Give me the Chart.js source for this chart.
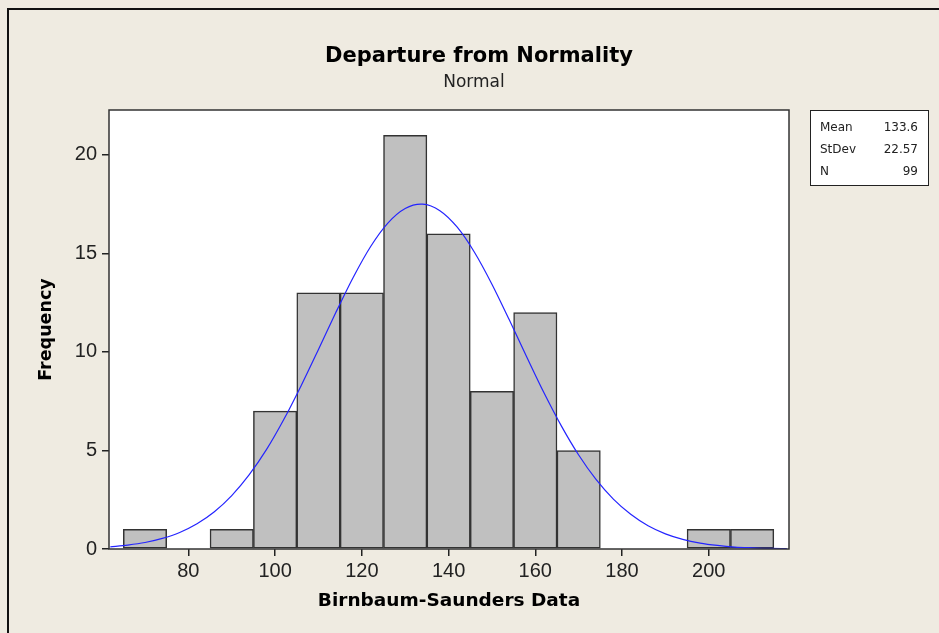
<!DOCTYPE html>
<html>
<head>
<meta charset="utf-8">
<script src="https://cdn.jsdelivr.net/npm/chart.js@4"></script>
<style>
  body { margin: 0; background: #efebe1; }
  canvas { display: block; }
</style>
</head>
<body>
<canvas id="histChart" width="939" height="633"></canvas>
<script>
// histogram bins (midpoints) and counts
const binMids = [70, 80, 90, 100, 110, 120, 130, 140, 150, 160, 170, 180, 190, 200, 210];
const counts  = [1, 0, 1, 7, 13, 13, 21, 16, 8, 12, 5, 0, 0, 1, 1];

// fitted normal curve
const curveX = [62, 66, 70, 74, 78, 82, 86, 90, 94, 98, 102, 106, 110, 114, 118, 122, 126, 130,
  134, 138, 142, 146, 150, 154, 158, 162, 166, 170, 174, 178, 182, 186, 190, 194, 198, 202, 206, 210, 214, 218];
const curveY = [0.11, 0.20, 0.33, 0.54, 0.84, 1.28, 1.89, 2.71, 3.76, 5.04, 6.57, 8.29, 10.13, 12.00, 13.78, 15.34, 16.54, 17.28,
  17.50, 17.17, 16.33, 15.05, 13.44, 11.63, 9.76, 7.93, 6.25, 4.77, 3.53, 2.53, 1.76, 1.18, 0.77, 0.49, 0.30, 0.18, 0.10, 0.06, 0.03, 0.02];

const xTicks = [80, 100, 120, 140, 160, 180, 200];
const yTicks = [0, 5, 10, 15, 20];

const statLabels = ["Mean", "StDev", "N"];
const statValues = ["133.6", "22.57", "99"];

const FONT = "'DejaVu Sans', sans-serif";
const TICKFONT = "'Liberation Sans', Arial, sans-serif";

// background, frame, plot box, title and the stats box
const decor = {
  id: "decor",
  beforeDraw(chart) {
    const ctx = chart.ctx;
    const a = chart.chartArea;
    ctx.save();
    ctx.fillStyle = "#efebe1";
    ctx.fillRect(0, 0, chart.width, chart.height);
    ctx.fillStyle = "#ffffff";
    ctx.fillRect(a.left, a.top, a.right - a.left, a.bottom - a.top);
    // outer frame (top + left visible)
    ctx.strokeStyle = "#111";
    ctx.lineWidth = 2;
    ctx.beginPath();
    ctx.moveTo(8, chart.height);
    ctx.lineTo(8, 9);
    ctx.lineTo(chart.width, 9);
    ctx.stroke();
    ctx.restore();
  },
  afterDraw(chart) {
    const ctx = chart.ctx;
    const a = chart.chartArea;
    ctx.save();
    ctx.strokeStyle = "#333";
    ctx.lineWidth = 1.5;
    ctx.strokeRect(a.left, a.top, a.right - a.left, a.bottom - a.top);

    ctx.fillStyle = "#000";
    ctx.textAlign = "center";
    ctx.textBaseline = "alphabetic";
    ctx.font = "bold 21px " + FONT;
    ctx.fillText("Departure from Normality", 479, 62);
    ctx.fillStyle = "#222";
    ctx.font = "17px " + FONT;
    ctx.fillText("Normal", 474, 87);

    // stats box
    ctx.fillStyle = "#fff";
    ctx.fillRect(810, 110, 118, 75);
    ctx.strokeStyle = "#222";
    ctx.lineWidth = 1;
    ctx.strokeRect(810.5, 110.5, 118, 75);
    ctx.fillStyle = "#222";
    ctx.font = "12px " + FONT;
    statLabels.forEach((lab, i) => {
      const y = 131 + i * 22;
      ctx.textAlign = "left";
      ctx.fillText(lab, 820, y);
      ctx.textAlign = "right";
      ctx.fillText(statValues[i], 918, y);
    });
    ctx.restore();
  }
};

const ctx = document.getElementById("histChart").getContext("2d");
new Chart(ctx, {
  type: "bar",
  data: {
    datasets: [
      {
        type: "line",
        label: "Normal",
        data: curveX.map((x, i) => ({ x: x, y: curveY[i] })),
        borderColor: "#2424ff",
        borderWidth: 1.2,
        pointRadius: 0,
        tension: 0.3,
        fill: false,
        order: 0
      },
      {
        label: "Frequency",
        data: binMids.map((x, i) => ({ x: x, y: counts[i] })),
        backgroundColor: "#c0c0c0",
        borderColor: "#333",
        borderWidth: 1.5,
        borderSkipped: false,
        barPercentage: 1,
        categoryPercentage: 1,
        order: 1
      }
    ]
  },
  options: {
    responsive: false,
    animation: false,
    layout: { padding: { top: 110, right: 150, left: 0, bottom: 0 } },
    plugins: {
      legend: { display: false },
      tooltip: { enabled: false },
      title: { display: false }
    },
    scales: {
      x: {
        type: "linear",
        min: 61.7,
        max: 218.5,
        offset: false,
        afterBuildTicks: (s) => { s.ticks = xTicks.map(v => ({ value: v })); },
        afterFit: (s) => { s.height = 84; },
        grid: { offset: false, drawOnChartArea: false, drawTicks: true, tickLength: 7, color: "#222", lineWidth: 1.5 },
        border: { display: false },
        ticks: { color: "#222", font: { family: TICKFONT, size: 20 }, padding: 3, maxRotation: 0 },
        title: {
          display: true,
          text: "Birnbaum-Saunders Data",
          color: "#000",
          font: { family: FONT, size: 18.5, weight: "bold" },
          padding: { top: 0, bottom: 21 }
        }
      },
      y: {
        min: 0,
        max: 22.28,
        afterBuildTicks: (s) => { s.ticks = yTicks.map(v => ({ value: v })); },
        afterFit: (s) => { s.width = 109; },
        grid: { drawOnChartArea: false, drawTicks: true, tickLength: 7, color: "#222", lineWidth: 1.5 },
        border: { display: false },
        ticks: { color: "#222", font: { family: TICKFONT, size: 20 }, padding: 5 },
        title: {
          display: true,
          text: "Frequency",
          color: "#000",
          font: { family: FONT, size: 17.5, weight: "bold" },
          padding: { top: 36, bottom: 0 }
        }
      }
    }
  },
  plugins: [decor]
});
</script>
</body>
</html>
